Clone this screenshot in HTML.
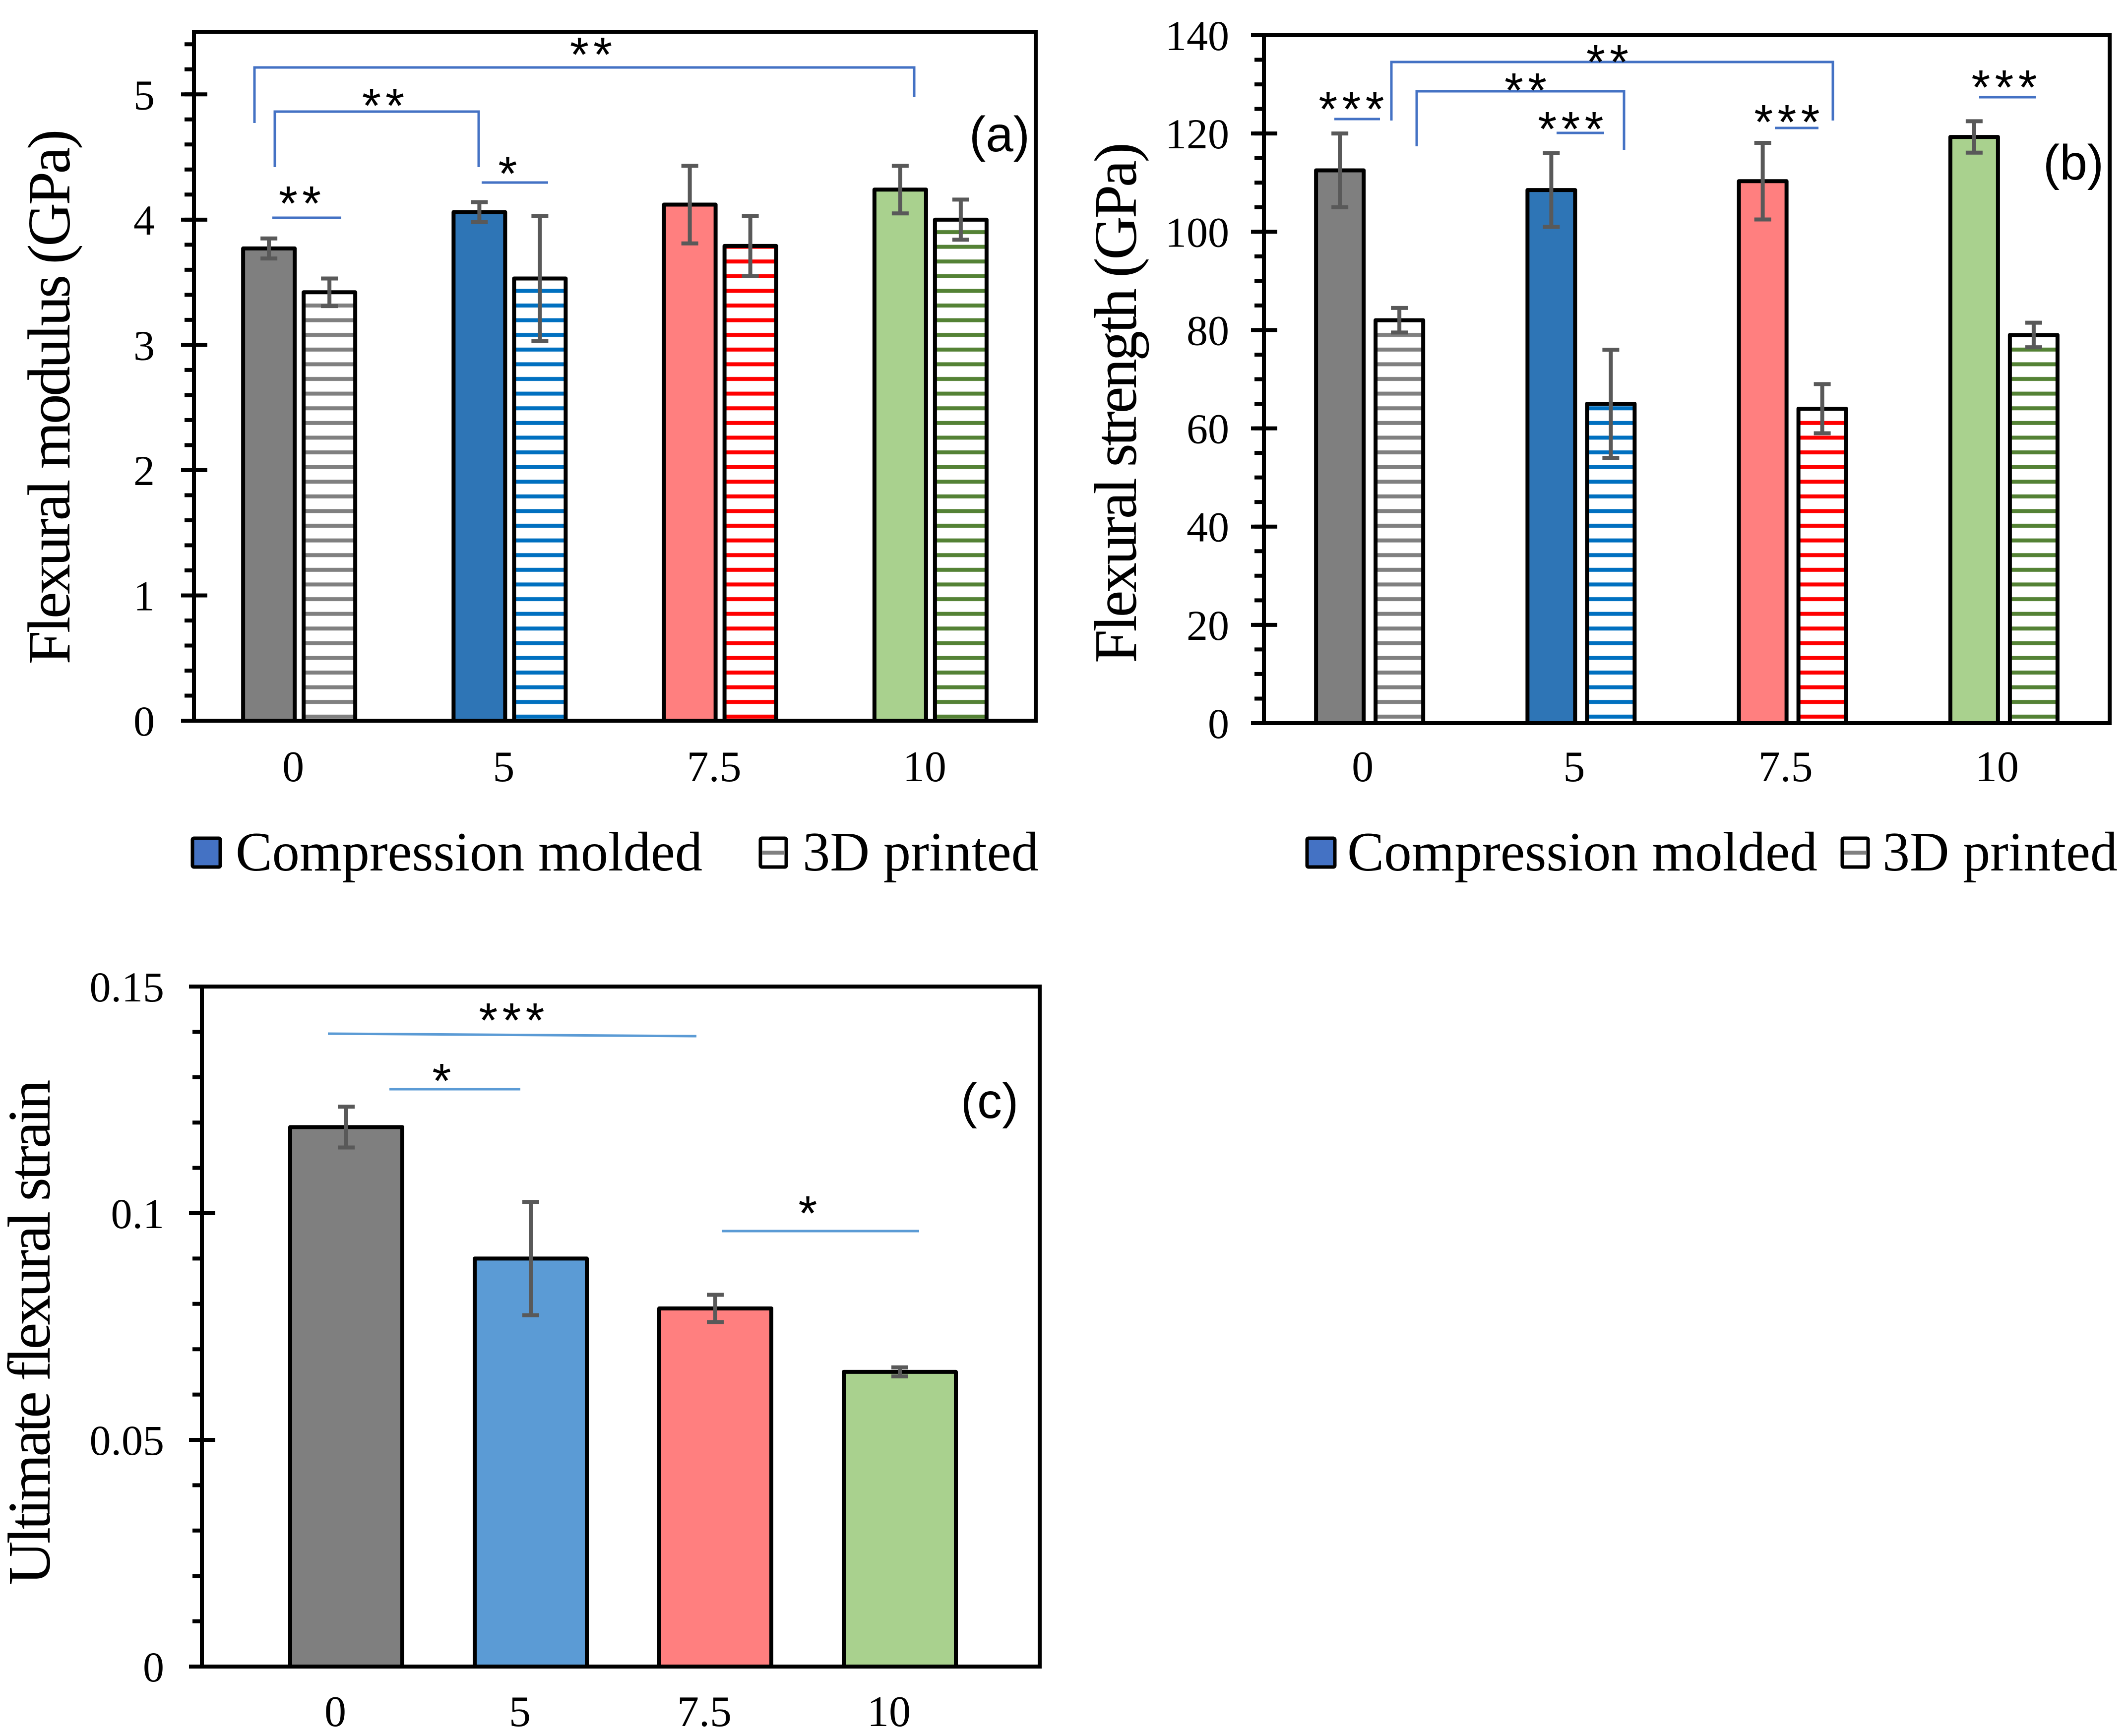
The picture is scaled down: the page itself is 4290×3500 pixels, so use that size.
<!DOCTYPE html>
<html><head><meta charset="utf-8"><style>
html,body{margin:0;padding:0;background:#fff;}
svg{display:block;}
</style></head><body>
<svg id="fig" width="4290" height="3500" viewBox="0 0 4290 3500" xmlns="http://www.w3.org/2000/svg" font-family="'Liberation Serif', serif">
<defs>
<pattern id="hatch-gray" patternUnits="userSpaceOnUse" width="40" height="29.6" y="0"><rect width="40" height="29.6" fill="#fff"/><rect y="20" width="40" height="8" fill="#808080"/></pattern>
<pattern id="hatch-blue" patternUnits="userSpaceOnUse" width="40" height="29.6"><rect width="40" height="29.6" fill="#fff"/><rect y="20" width="40" height="8" fill="#0070C0"/></pattern>
<pattern id="hatch-red" patternUnits="userSpaceOnUse" width="40" height="29.6"><rect width="40" height="29.6" fill="#fff"/><rect y="20" width="40" height="8" fill="#FF0000"/></pattern>
<pattern id="hatch-green" patternUnits="userSpaceOnUse" width="40" height="29.6"><rect width="40" height="29.6" fill="#fff"/><rect y="20" width="40" height="8" fill="#548235"/></pattern>
</defs>
<g id="root"></g>
</svg>
<script>
// ---- data ----
const categories = ["0", "5", "7.5", "10"];
const modulusCM = [3.77, 4.06, 4.12, 4.24];
const modulusCMErr = [0.08, 0.08, 0.31, 0.19];
const modulus3D = [3.42, 3.53, 3.79, 4.00];
const modulus3DErr = [0.11, 0.50, 0.24, 0.16];
const modulusTicks = [0, 1, 2, 3, 4, 5];
const strengthCM = [112.5, 108.5, 110.3, 119.3];
const strengthCMErr = [7.5, 7.5, 7.8, 3.2];
const strength3D = [82, 65, 64, 79];
const strength3DErr = [2.5, 11, 5, 2.5];
const strengthTicks = [0, 20, 40, 60, 80, 100, 120, 140];
const strain = [0.119, 0.090, 0.079, 0.065];
const strainErr = [0.0045, 0.0125, 0.003, 0.001];
const strainTicks = ["0", "0.05", "0.1", "0.15"];

const NS = "http://www.w3.org/2000/svg";
const root = document.getElementById("root");
function mk(tag, attrs, parent, text) {
  const e = document.createElementNS(NS, tag);
  for (const k in attrs) e.setAttribute(k, attrs[k]);
  if (text !== undefined) e.textContent = text;
  (parent || root).appendChild(e);
  return e;
}
const solid = ["#7F7F7F", "#2E75B6", "#FF7F7F", "#A9D18E"];
const hatches = ["url(#hatch-gray)", "url(#hatch-blue)", "url(#hatch-red)", "url(#hatch-green)"];
const strainColors = ["#7F7F7F", "#5B9BD5", "#FF7F7F", "#A9D18E"];

function panel(cfg) {
  const g = mk("g", {});
  
  
  const L = cfg.left, R = cfg.right, T = cfg.top, B = cfg.bottom;
  const ys = v => B - (v - cfg.ymin) / (cfg.ymax - cfg.ymin) * (B - T);
  for (let v = cfg.ymin; v <= cfg.ymax + 1e-9; v += cfg.minor) {
    const t = mk("line", {x1: L - 19, x2: L, y1: ys(v), y2: ys(v), stroke: "#000", "stroke-width": 8}, g);
    
    
  }
  cfg.ticks.forEach(tv => {
    const v = parseFloat(tv);
    const t = mk("line", {x1: L - 26, x2: L + 27, y1: ys(v), y2: ys(v), stroke: "#000", "stroke-width": 8}, g);
    
    
    const lb = mk("text", {x: cfg.tickRight, y: ys(v) + 30, "text-anchor": "end", "font-size": 86}, g, String(tv));
    
    
  });
  const barsG = mk("g", {}, g);
  
  
  cfg.series.forEach((s, si) => {
    s.values.forEach((v, i) => {
      const cx = cfg.cx(i) + s.offset;
      const r = mk("rect", {x: cx - cfg.bw / 2, y: ys(v), width: cfg.bw, height: B - ys(v), fill: s.fill[i], stroke: "#000", "stroke-width": 8, "stroke-linejoin": "round"}, barsG);
      
      
      const e = s.err[i];
      const eg = mk("path", {d: `M${cx},${ys(v + e)}V${ys(v - e)}M${cx - 17},${ys(v + e)}H${cx + 17}M${cx - 17},${ys(v - e)}H${cx + 17}`, stroke: "#595959", "stroke-width": 8, fill: "none"}, barsG);
      
      
    });
  });
  const fr = mk("rect", {x: L, y: T, width: R - L, height: B - T, fill: "none", stroke: "#000", "stroke-width": 8}, g);
  
  
  categories.forEach((c, i) => {
    const t = mk("text", {x: cfg.cx(i) + cfg.labelShift, y: cfg.xLabelY, "text-anchor": "middle", "font-size": 88}, g, c);
    
    
  });
  const yt = mk("text", {transform: `translate(${cfg.titleX},${cfg.titleY}) rotate(-90)`, "text-anchor": "middle", "font-size": 122, textLength: cfg.titleLen, lengthAdjust: "spacing"}, g, cfg.title);
  
  
  return g;
}

function ast(g, x, cy, s, name) {
  const t = mk("text", {x: x, y: cy + 57, "text-anchor": "middle", "font-size": 98, "font-family": "'Liberation Sans', sans-serif", "letter-spacing": 9}, g, s);
  
  
}
function bl(g, d, color, name) {
  const p = mk("path", {d: d, stroke: color, "stroke-width": 5, fill: "none"}, g);
  
  
}
function legend(x0, parts) {
  const g = mk("g", {});
  
  
  const a = mk("rect", {x: parts.s1, y: 1690, width: 56, height: 58, fill: "#4472C4", stroke: "#000", "stroke-width": 7, rx: 3}, g);
  
  
  const t1 = mk("text", {x: parts.t1, y: 1755, "font-size": 112, textLength: parts.l1, lengthAdjust: "spacingAndGlyphs"}, g, "Compression molded");
  
  
  const b = mk("rect", {x: parts.s2, y: 1690, width: 52, height: 58, fill: "#fff", stroke: "#000", "stroke-width": 7, rx: 3}, g);
  
  
  const hl = mk("line", {x1: parts.s2 + 4, x2: parts.s2 + 48, y1: 1719, y2: 1719, stroke: "#808080", "stroke-width": 8}, g);
  
  
  const t2 = mk("text", {x: parts.t2, y: 1755, "font-size": 112, textLength: parts.l2, lengthAdjust: "spacingAndGlyphs"}, g, "3D printed");
  
  
}

// ---- panel a ----
const ga = panel({name: "panel-a-flexural-modulus", left: 391, right: 2088, top: 64, bottom: 1453, ymin: 0, ymax: 5.5, minor: 0.2,
  ticks: modulusTicks, tickRight: 312, bw: 104,
  cx: i => 391 + 424.25 * (i + 0.5), labelShift: -12, xLabelY: 1575,
  titleX: 140, titleY: 800, titleLen: 1079, title: "Flexural modulus (GPa)",
  series: [{key: "cm", values: modulusCM, err: modulusCMErr, fill: solid, offset: -61},
           {key: "3d", values: modulus3D, err: modulus3DErr, fill: hatches, offset: 61}]});
const blueA = "#4472C4";
bl(ga, "M513,248V136H1843V196", blueA, "sig-bracket-0-vs-10");
ast(ga, 1196, 87, "**", "sig-label-0-vs-10");
bl(ga, "M554,337V225H965V337", blueA, "sig-bracket-0-vs-5");
ast(ga, 777, 190, "**", "sig-label-0-vs-5");
bl(ga, "M971,368H1105", blueA, "sig-line-5");
ast(ga, 1028, 327, "*", "sig-label-5");
bl(ga, "M549,439H688", blueA, "sig-line-0");
ast(ga, 609, 387, "**", "sig-label-0");
const la = mk("text", {x: 2015, y: 305, "text-anchor": "middle", "font-size": 100, "font-family": "'Liberation Sans', sans-serif"}, ga, "(a)");


legend(0, {s1: 388, t1: 475, l1: 941, s2: 1533, t2: 1618, l2: 476});

// ---- panel b ----
const gb = panel({name: "panel-b-flexural-strength", left: 2548, right: 4253, top: 71, bottom: 1458, ymin: 0, ymax: 140, minor: 5,
  ticks: strengthTicks, tickRight: 2478, bw: 96,
  cx: i => 2548 + 426.25 * (i + 0.5), labelShift: -14, xLabelY: 1575,
  titleX: 2290, titleY: 812, titleLen: 1050, title: "Flexural strength (GPa)",
  series: [{key: "cm", values: strengthCM, err: strengthCMErr, fill: solid, offset: -60},
           {key: "3d", values: strength3D, err: strength3DErr, fill: hatches, offset: 60}]});
bl(gb, "M2690,240H2782", blueA, "sig-line-b0");
ast(gb, 2729, 197, "***", "sig-label-b0");
bl(gb, "M2805,243V125H3695V243", blueA, "sig-bracket-b-0-vs-7-5");
ast(gb, 3245, 102, "**", "sig-label-b-0-vs-7-5");
bl(gb, "M2856,295V184H3274V302", blueA, "sig-bracket-b-0-vs-5");
ast(gb, 3080, 159, "**", "sig-label-b-0-vs-5");
bl(gb, "M3138,268H3234", blueA, "sig-line-b5");
ast(gb, 3171, 237, "***", "sig-label-b5");
bl(gb, "M3578,258H3666", blueA, "sig-line-b7-5");
ast(gb, 3607, 223, "***", "sig-label-b7-5");
bl(gb, "M3990,196H4104", blueA, "sig-line-b10");
ast(gb, 4045, 153, "***", "sig-label-b10");
const lbb = mk("text", {x: 4180, y: 362, "text-anchor": "middle", "font-size": 100, "font-family": "'Liberation Sans', sans-serif"}, gb, "(b)");


legend(0, {s1: 2635, t1: 2716, l1: 948, s2: 3714, t2: 3795, l2: 474});

// ---- panel c ----
const gc = panel({name: "panel-c-ultimate-strain", left: 407, right: 2096, top: 1989, bottom: 3360, ymin: 0, ymax: 0.15, minor: 0.01,
  ticks: strainTicks, tickRight: 331, bw: 226,
  cx: i => 698 + 372 * i, labelShift: -22, xLabelY: 3480,
  titleX: 100, titleY: 2686, titleLen: 1019, title: "Ultimate flexural strain",
  series: [{key: "strain", values: strain, err: strainErr, fill: strainColors, offset: 0}]});
const blueC = "#5B9BD5";
bl(gc, "M661,2084L1404,2089", blueC, "sig-line-c-0-vs-7-5");
ast(gc, 1036, 2034, "***", "sig-label-c-0-vs-7-5");
bl(gc, "M785,2196H1049", blueC, "sig-line-c-0-vs-5");
ast(gc, 895, 2156, "*", "sig-label-c-0-vs-5");
bl(gc, "M1455,2482H1853", blueC, "sig-line-c-7-5-vs-10");
ast(gc, 1633, 2423, "*", "sig-label-c-7-5-vs-10");
const lc = mk("text", {x: 1995, y: 2254, "text-anchor": "middle", "font-size": 100, "font-family": "'Liberation Sans', sans-serif"}, gc, "(c)");


</script>
</body></html>
